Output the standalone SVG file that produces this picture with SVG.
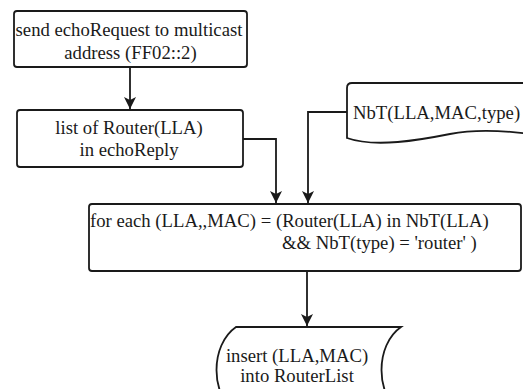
<svg xmlns="http://www.w3.org/2000/svg" width="523" height="389" viewBox="0 0 523 389">
<style>
.box{fill:#fff;stroke:#1a1a1a;stroke-width:1.8}
.t{font-family:"Liberation Serif","Times New Roman",serif;font-size:18.7px;fill:#1a1a1a}
.c{text-anchor:middle}
.ln{fill:none;stroke:#1a1a1a;stroke-width:1.8}
</style>
<defs>
<marker id="ah" viewBox="0 0 12 12" refX="12" refY="6" markerWidth="12" markerHeight="12" markerUnits="userSpaceOnUse" orient="auto">
<path d="M0,0 L12,6 L0,12 L3,6 Z" fill="#1a1a1a"/>
</marker>
</defs>
<rect width="523" height="389" fill="#fff"/>
<g id="connectors">
<path class="ln" d="M130,67 V109" marker-end="url(#ah)"/>
<path class="ln" d="M243,139 H276 V203" marker-end="url(#ah)"/>
<path class="ln" d="M347,112 H308 V203" marker-end="url(#ah)"/>
<path class="ln" d="M307,271 V326" marker-end="url(#ah)"/>
</g>
<g id="send">
<rect class="box" x="14" y="11" width="233" height="56" rx="3"/>
<text class="t c" x="129" y="36">send echoRequest to multicast</text>
<text class="t c" x="130.5" y="59">address (FF02::2)</text>
</g>
<g id="list">
<rect class="box" x="17" y="110" width="226" height="57" rx="3"/>
<text class="t c" x="129" y="134">list of Router(LLA)</text>
<text class="t c" x="129" y="156">in echoReply</text>
</g>
<g id="nbt">
<path class="box" d="M530,83 H352 Q347,83 347,88 V138 C375,148 420,140 450,134 C475,129 500,130 530,134 Z"/>
<text class="t" x="353" y="119">NbT(LLA,MAC,type)</text>
</g>
<g id="foreach">
<rect class="box" x="89" y="204" width="432" height="67" rx="3"/>
<text class="t" x="90" y="227">for each (LLA,,MAC) = (Router(LLA) in NbT(LLA)</text>
<text class="t" x="282" y="249">&amp;&amp; NbT(type) = 'router' )</text>
</g>
<g id="insert">
<path class="box" d="M236,327 H401 C375,345 375,395 401,413 H236 C210,395 210,345 236,327 Z"/>
<text class="t c" x="297" y="362">insert (LLA,MAC)</text>
<text class="t c" x="297" y="382">into RouterList</text>
</g>
</svg>
